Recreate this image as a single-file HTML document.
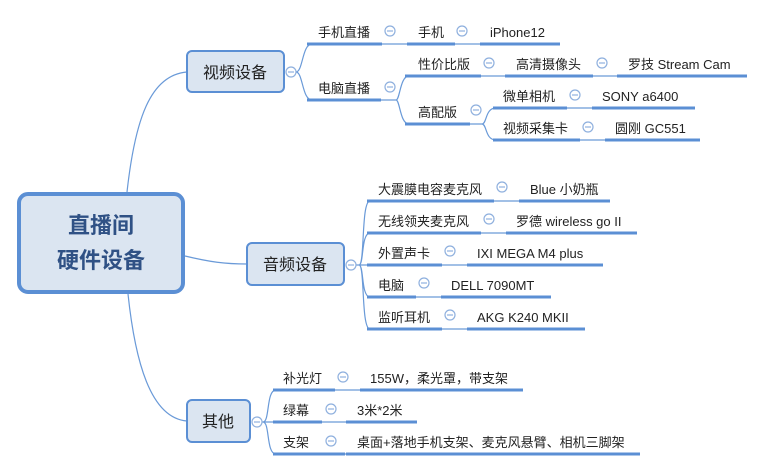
<!DOCTYPE html>
<html><head><meta charset="utf-8"><style>
html,body{margin:0;padding:0;background:#fff;}
svg{display:block;}
text{font-family:"Liberation Sans","Noto Sans CJK SC",sans-serif;fill:#222;font-size:13px;}
.u{stroke:#5b8fd4;stroke-width:3;}
.l{stroke:#6a9ad8;stroke-width:1.2;fill:none;}
.c{fill:#fff;stroke:#8fb0de;stroke-width:1.2;}
.cm{stroke:#8fb0de;stroke-width:1.2;}
</style></head><body>
<svg width="765" height="471" viewBox="0 0 765 471" xmlns="http://www.w3.org/2000/svg">
<!-- root connectors -->
<path class="l" d="M127 192 C135 120 150 75 187 72"/>
<path class="l" d="M185 256 C210 262 225 264 247 264"/>
<path class="l" d="M128 294 C135 360 150 418 187 421"/>
<!-- root -->
<rect x="19" y="194" width="164" height="98" rx="9" fill="#dbe5f1" stroke="#5b8fd4" stroke-width="4"/>
<text x="101" y="233" text-anchor="middle" style="font-size:22px;font-weight:bold;fill:#2f5185">直播间</text>
<text x="101" y="268" text-anchor="middle" style="font-size:22px;font-weight:bold;fill:#2f5185">硬件设备</text>

<!-- video -->
<rect x="187" y="51" width="97" height="41" rx="5" fill="#dbe5f1" stroke="#5b8fd4" stroke-width="2"/>
<text x="235" y="78" text-anchor="middle" style="font-size:16px">视频设备</text>
<path class="l" d="M296 72 C303 72 302 44 312 44 M296 72 C303 72 302 100 312 100"/>
<circle class="c" cx="291" cy="72" r="5"/><line class="cm" x1="288" y1="72" x2="294" y2="72"/>
<line class="u" x1="307" y1="44" x2="382" y2="44"/><text x="318" y="37">手机直播</text>
<line class="l" x1="382" y1="44" x2="407" y2="44"/>
<line class="u" x1="407" y1="44" x2="455" y2="44"/><text x="418" y="37">手机</text>
<line class="l" x1="455" y1="44" x2="480" y2="44"/>
<line class="u" x1="480" y1="44" x2="560" y2="44"/><text x="490" y="37">iPhone12</text>
<line class="u" x1="307" y1="100" x2="381" y2="100"/><text x="318" y="93">电脑直播</text>
<path class="l" d="M381 100 L396 100 M396 100 C400 100 400 76 409 76 M396 100 C400 100 400 124 409 124"/>
<line class="u" x1="405" y1="76" x2="481" y2="76"/><text x="418" y="69">性价比版</text>
<line class="l" x1="481" y1="76" x2="505" y2="76"/>
<line class="u" x1="505" y1="76" x2="593" y2="76"/><text x="516" y="69">高清摄像头</text>
<line class="l" x1="593" y1="76" x2="617" y2="76"/>
<line class="u" x1="617" y1="76" x2="747" y2="76"/><text x="628" y="69">罗技 Stream Cam</text>
<line class="u" x1="405" y1="124" x2="470" y2="124"/><text x="418" y="117">高配版</text>
<path class="l" d="M470 124 L482 124 M482 124 C487 124 485 108 496 108 M482 124 C487 124 485 140 496 140"/>
<line class="u" x1="493" y1="108" x2="567" y2="108"/><text x="503" y="101">微单相机</text>
<line class="l" x1="567" y1="108" x2="592" y2="108"/>
<line class="u" x1="592" y1="108" x2="695" y2="108"/><text x="602" y="101">SONY a6400</text>
<line class="u" x1="493" y1="140" x2="580" y2="140"/><text x="503" y="133">视频采集卡</text>
<line class="l" x1="580" y1="140" x2="605" y2="140"/>
<line class="u" x1="605" y1="140" x2="700" y2="140"/><text x="615" y="133">圆刚 GC551</text>
<g>
<circle class="c" cx="390" cy="31" r="5"/><line class="cm" x1="387" y1="31" x2="393" y2="31"/>
<circle class="c" cx="462" cy="31" r="5"/><line class="cm" x1="459" y1="31" x2="465" y2="31"/>
<circle class="c" cx="390" cy="87" r="5"/><line class="cm" x1="387" y1="87" x2="393" y2="87"/>
<circle class="c" cx="489" cy="63" r="5"/><line class="cm" x1="486" y1="63" x2="492" y2="63"/>
<circle class="c" cx="602" cy="63" r="5"/><line class="cm" x1="599" y1="63" x2="605" y2="63"/>
<circle class="c" cx="476" cy="110" r="5"/><line class="cm" x1="473" y1="110" x2="479" y2="110"/>
<circle class="c" cx="575" cy="95" r="5"/><line class="cm" x1="572" y1="95" x2="578" y2="95"/>
<circle class="c" cx="588" cy="127" r="5"/><line class="cm" x1="585" y1="127" x2="591" y2="127"/>
</g>

<!-- audio -->
<rect x="247" y="243" width="97" height="42" rx="5" fill="#dbe5f1" stroke="#5b8fd4" stroke-width="2"/>
<text x="295" y="270" text-anchor="middle" style="font-size:16px">音频设备</text>
<path class="l" d="M356 265 L367 265 M359 265 C365 265 361 201 370 201 M359 265 C364 265 361 233 370 233 M359 265 C364 265 361 297 370 297 M359 265 C365 265 361 329 370 329"/>
<circle class="c" cx="351" cy="265" r="5"/><line class="cm" x1="348" y1="265" x2="354" y2="265"/>
<line class="u" x1="367" y1="201" x2="494" y2="201"/><text x="378" y="194">大震膜电容麦克风</text>
<line class="l" x1="494" y1="201" x2="519" y2="201"/>
<line class="u" x1="519" y1="201" x2="610" y2="201"/><text x="530" y="194">Blue 小奶瓶</text>
<line class="u" x1="367" y1="233" x2="481" y2="233"/><text x="378" y="226">无线领夹麦克风</text>
<line class="l" x1="481" y1="233" x2="506" y2="233"/>
<line class="u" x1="506" y1="233" x2="637" y2="233"/><text x="516" y="226">罗德 wireless go II</text>
<line class="u" x1="367" y1="265" x2="442" y2="265"/><text x="378" y="258">外置声卡</text>
<line class="l" x1="442" y1="265" x2="467" y2="265"/>
<line class="u" x1="467" y1="265" x2="603" y2="265"/><text x="477" y="258">IXI MEGA M4 plus</text>
<line class="u" x1="367" y1="297" x2="416" y2="297"/><text x="378" y="290">电脑</text>
<line class="l" x1="416" y1="297" x2="441" y2="297"/>
<line class="u" x1="441" y1="297" x2="551" y2="297"/><text x="451" y="290">DELL 7090MT</text>
<line class="u" x1="367" y1="329" x2="442" y2="329"/><text x="378" y="322">监听耳机</text>
<line class="l" x1="442" y1="329" x2="467" y2="329"/>
<line class="u" x1="467" y1="329" x2="585" y2="329"/><text x="477" y="322">AKG K240 MKII</text>
<g>
<circle class="c" cx="502" cy="187" r="5"/><line class="cm" x1="499" y1="187" x2="505" y2="187"/>
<circle class="c" cx="489" cy="219" r="5"/><line class="cm" x1="486" y1="219" x2="492" y2="219"/>
<circle class="c" cx="450" cy="251" r="5"/><line class="cm" x1="447" y1="251" x2="453" y2="251"/>
<circle class="c" cx="424" cy="283" r="5"/><line class="cm" x1="421" y1="283" x2="427" y2="283"/>
<circle class="c" cx="450" cy="315" r="5"/><line class="cm" x1="447" y1="315" x2="453" y2="315"/>
</g>

<!-- others -->
<rect x="187" y="400" width="63" height="42" rx="5" fill="#dbe5f1" stroke="#5b8fd4" stroke-width="2"/>
<text x="218" y="427" text-anchor="middle" style="font-size:16px">其他</text>
<path class="l" d="M262 422 L273 422 M263 422 C270 422 266 390 276 390 M263 422 C270 422 266 454 276 454"/>
<circle class="c" cx="257" cy="422" r="5"/><line class="cm" x1="254" y1="422" x2="260" y2="422"/>
<line class="u" x1="273" y1="390" x2="335" y2="390"/><text x="283" y="383">补光灯</text>
<line class="l" x1="335" y1="390" x2="360" y2="390"/>
<line class="u" x1="360" y1="390" x2="523" y2="390"/><text x="370" y="383">155W，柔光罩，带支架</text>
<line class="u" x1="273" y1="422" x2="322" y2="422"/><text x="283" y="415">绿幕</text>
<line class="l" x1="322" y1="422" x2="346" y2="422"/>
<line class="u" x1="346" y1="422" x2="417" y2="422"/><text x="357" y="415">3米*2米</text>
<line class="u" x1="273" y1="454" x2="345" y2="454"/><text x="283" y="447">支架</text>
<line class="l" x1="345" y1="454" x2="346" y2="454"/>
<line class="u" x1="346" y1="454" x2="640" y2="454"/><text x="357" y="447">桌面+落地手机支架、麦克风悬臂、相机三脚架</text>
<g>
<circle class="c" cx="343" cy="377" r="5"/><line class="cm" x1="340" y1="377" x2="346" y2="377"/>
<circle class="c" cx="331" cy="409" r="5"/><line class="cm" x1="328" y1="409" x2="334" y2="409"/>
<circle class="c" cx="331" cy="441" r="5"/><line class="cm" x1="328" y1="441" x2="334" y2="441"/>
</g>
</svg>
</body></html>
